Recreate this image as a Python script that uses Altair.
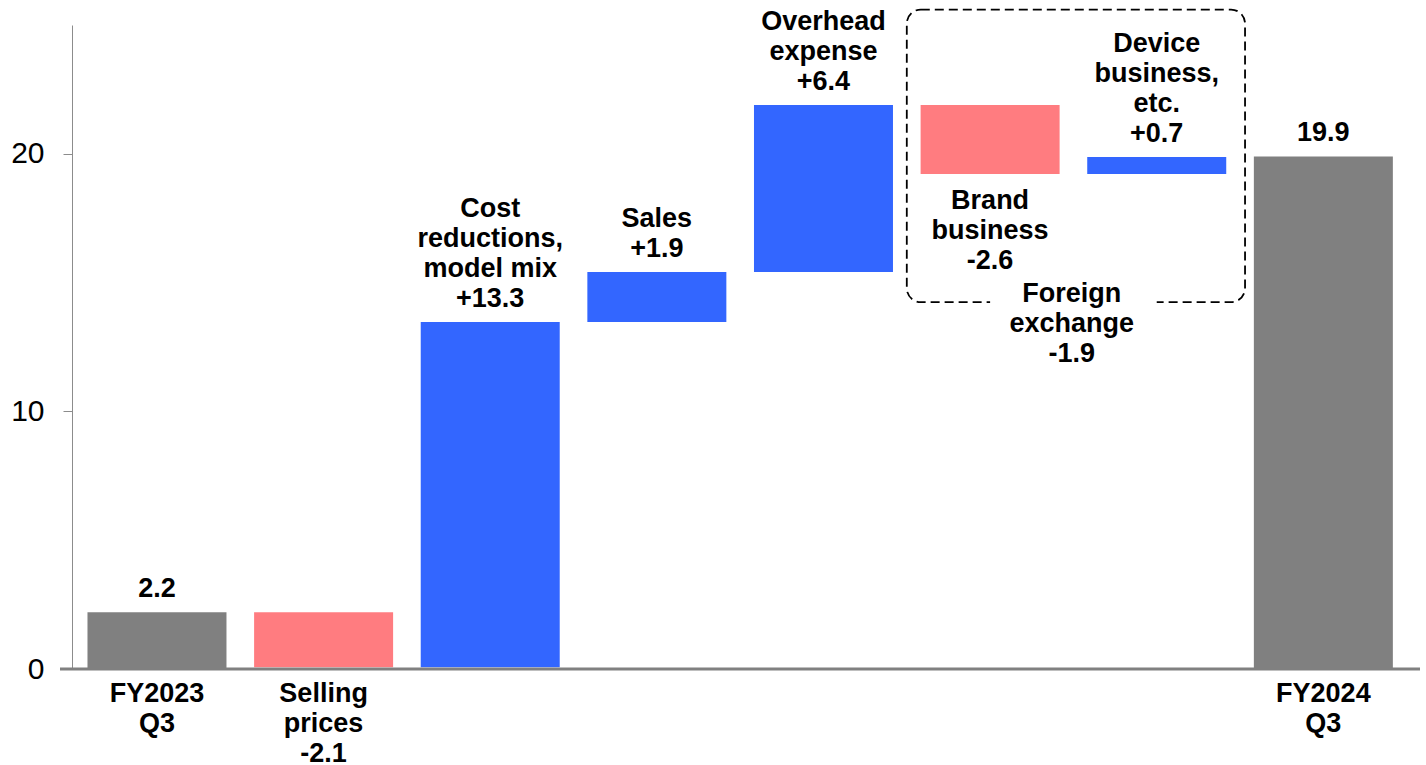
import altair as alt
import pandas as pd

# ---- data ----
categories = ["FY2023\nQ3", "Selling\nprices", "Cost\nreductions,\nmodel mix", "Sales",
              "Overhead\nexpense", "Brand\nbusiness", "Device\nbusiness,\netc.", "FY2024\nQ3"]
# bar sizes as measured on the picture
values = [2.2, -2.13, 13.4, 1.94, 6.48, -2.67, 0.66, 19.9]
# value labels as printed on the picture
value_labels = ["2.2", "-2.1", "+13.3", "+1.9", "+6.4", "-2.6", "+0.7", "19.9"]
kinds = ["total", "delta", "delta", "delta", "delta", "delta", "delta", "total"]
label_place = ["above", "axis", "above", "above", "above", "below", "above", "above"]
group_label = "Foreign\nexchange"
group_value_label = "-1.9"
group_members = [5, 6]

FONT = "Liberation Sans"
FS = 27
LH = 30

# ---- build tables ----
bars, above, below, axis_txt = [], [], [], []
running = 0.0
for i, (name, v, vl, k, pl) in enumerate(zip(categories, values, value_labels, kinds, label_place)):
    if k == "total":
        start, end = 0.0, v
        color = "total"
    else:
        start, end = running, running + v
        color = "up" if v >= 0 else "down"
    running = end
    bars.append({"i": i, "start": start, "end": end, "kind": color})
    if k == "total":
        above.append({"i": i, "y": end, "t": vl, "n": 1})
        axis_txt.append({"i": i, "y": 0.0, "t": name})
    else:
        txt = f"{name}\n{vl}"
        if pl == "above":
            above.append({"i": i, "y": max(start, end), "t": txt, "n": txt.count("\n") + 1})
        elif pl == "below":
            below.append({"i": i, "y": min(start, end), "t": txt})
        else:
            axis_txt.append({"i": i, "y": 0.0, "t": txt})

bars_df = pd.DataFrame(bars)
above_df = pd.DataFrame(above)
below_df = pd.DataFrame(below)
axis_df = pd.DataFrame(axis_txt)

g_lo, g_hi = min(group_members), max(group_members)
box_df = pd.DataFrame([{"i": g_lo - 0.5, "i2": g_hi + 0.53, "y": 25.6, "y2": 14.24}])
gap_df = pd.DataFrame([{"i": float(g_lo), "i2": float(g_hi), "y": 13.8, "y2": 14.7}])
grp_df = pd.DataFrame([{"i": (g_lo + g_hi) / 2 - 0.01, "y": 14.24,
                        "t": f"{group_label}\n{group_value_label}"}])
zero_df = pd.DataFrame([{"y": 0.0}])

xs = alt.Scale(domain=[-0.51, 7.58], nice=False, zero=False, padding=0)
ys = alt.Scale(domain=[0, 25], nice=False, zero=False, padding=0)

X = alt.X("i:Q", scale=xs, axis=None)
Y = alt.Y("y:Q", scale=ys, title=None)

bar_layer = alt.Chart(bars_df).mark_bar(size=139).encode(
    x=X,
    y=alt.Y("start:Q", scale=ys, title=None,
            axis=alt.Axis(values=[0, 10, 20], grid=False, tickSize=9, labelPadding=19,
                          labelFontSize=30, labelFont=FONT, labelColor="black",
                          domainColor="#8c8c8c", tickColor="#8c8c8c")),
    y2="end:Q",
    color=alt.Color("kind:N", scale=alt.Scale(domain=["total", "up", "down"],
                                               range=["#808080", "#3366FF", "#FF7C80"]), legend=None),
)

xaxis_line = alt.Chart(zero_df).mark_rule(color="#808080", strokeWidth=3).encode(
    x=alt.value(-12), x2=alt.value(1348), y=Y
)

txt_kw = dict(font=FONT, fontSize=FS, fontWeight="bold", lineBreak="\n", lineHeight=LH, color="black")

above_layers = []
for n in sorted(above_df["n"].unique()):
    above_layers.append(
        alt.Chart(above_df[above_df["n"] == n]).mark_text(
            baseline="bottom", dy=-9 - (int(n) - 1) * LH, **txt_kw
        ).encode(x=X, y=Y, text="t:N")
    )
below_layer = alt.Chart(below_df).mark_text(baseline="top", dy=14, **txt_kw).encode(
    x=X, y=Y, text="t:N")
axis_layer = alt.Chart(axis_df).mark_text(baseline="top", dy=12, **txt_kw).encode(
    x=X, y=Y, text="t:N")

box_layer = alt.Chart(box_df).mark_rect(filled=False, stroke="black", strokeWidth=1.8,
                                        strokeDash=[9, 5], cornerRadius=14).encode(
    x=X, x2="i2:Q", y=Y, y2="y2:Q")
gap_layer = alt.Chart(gap_df).mark_rect(color="white").encode(
    x=X, x2="i2:Q", y=Y, y2="y2:Q")
grp_layer = alt.Chart(grp_df).mark_text(baseline="top", dy=-21, **txt_kw).encode(
    x=X, y=Y, text="t:N")

chart = alt.layer(
    bar_layer, xaxis_line, box_layer, gap_layer, *above_layers, below_layer, axis_layer, grp_layer
).properties(
    width=1348, height=644,
    autosize=alt.AutoSizeParams(type="none"),
    padding={"left": 72, "top": 25, "right": 6, "bottom": 96},
).configure_view(strokeWidth=0)

chart.save("out.html", embed_options={"renderer": "svg", "actions": False})
